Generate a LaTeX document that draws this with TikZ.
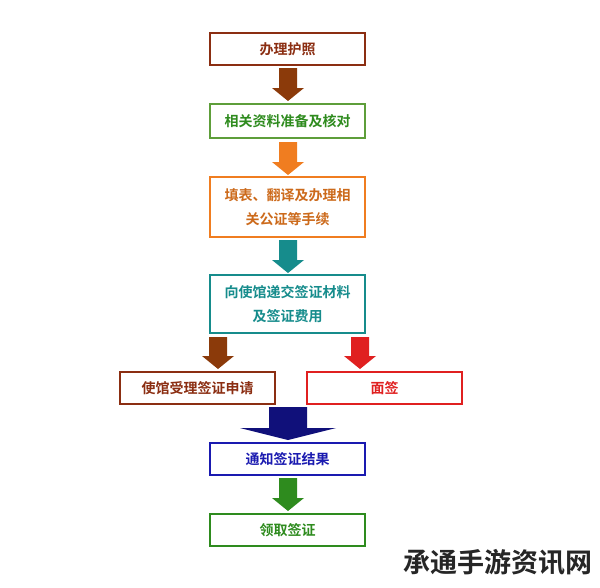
\documentclass[tikz,border=0pt]{standalone}
\usepackage{fontspec}
\newfontfamily\cjk{Noto Sans CJK SC}[BoldFont={Noto Sans CJK SC Bold}]
\begin{document}
\begin{tikzpicture}[x=1pt,y=-1pt,
 box/.style={draw=#1,line width=1.6pt,fill=white,minimum width=155pt,inner sep=2pt,align=center,font=\cjk\bfseries\fontsize{14}{24}\selectfont,text=#1},
]
\definecolor{cA}{HTML}{8B2E12}\definecolor{cB}{HTML}{5E9E3A}\definecolor{cC}{HTML}{F07D20}
\definecolor{cD}{HTML}{168C8C}\definecolor{cE}{HTML}{E02020}\definecolor{cF}{HTML}{1A1AB0}
\definecolor{cG}{HTML}{2E8B1E}\definecolor{cAr}{HTML}{8B3A0A}\definecolor{cBl}{HTML}{10107A}
\useasboundingbox (0,0) rectangle (600,587);
\newcommand\barrow[7]{% x, ytop, ybot, shaft half, head half, head length, colour
 \fill[#7] (#1-#4,#2) -- (#1+#4,#2) -- (#1+#4,#3-#6) -- (#1+#5,#3-#6) -- (#1,#3) -- (#1-#5,#3-#6) -- (#1-#4,#3-#6) -- cycle;}
\node[box=cA,minimum height=32pt] (b1) at (287.5,49) {办理护照};
\node[box=cB,minimum height=34pt,text=cG] (b2) at (287.5,121) {相关资料准备及核对};
\node[box=cC,minimum height=60pt,text=cC!85!black] (b3) at (287.5,207) {填表、翻译及办理相\\关公证等手续};
\node[box=cD,minimum height=58pt] (b4) at (287.5,304) {向使馆递交签证材料\\及签证费用};
\node[box=cA,minimum height=32pt] (b5) at (197.5,388) {使馆受理签证申请};
\node[box=cE,minimum height=32pt] (b6) at (384.5,388) {面签};
\node[box=cF,minimum height=32pt] (b7) at (287.5,459) {通知签证结果};
\node[box=cG,minimum height=32pt] (b8) at (287.5,530) {领取签证};
\barrow{288}{68}{101}{9}{16}{13}{cAr}
\barrow{288}{142}{175}{9}{16}{13}{cC}
\barrow{288}{240}{273}{9}{16}{13}{cD}
\barrow{218}{337}{369}{9}{16}{13}{cAr}
\barrow{360}{337}{369}{9}{16}{13}{cE}
\barrow{288}{407}{440}{19}{48}{12}{cBl}
\barrow{288}{478}{511}{9}{16}{13}{cG}
\node[font=\cjk\bfseries\fontsize{27}{30}\selectfont,text=black!85,anchor=east] (wm) at (596,562) {承通手游资讯网};
\end{tikzpicture}
\end{document}
